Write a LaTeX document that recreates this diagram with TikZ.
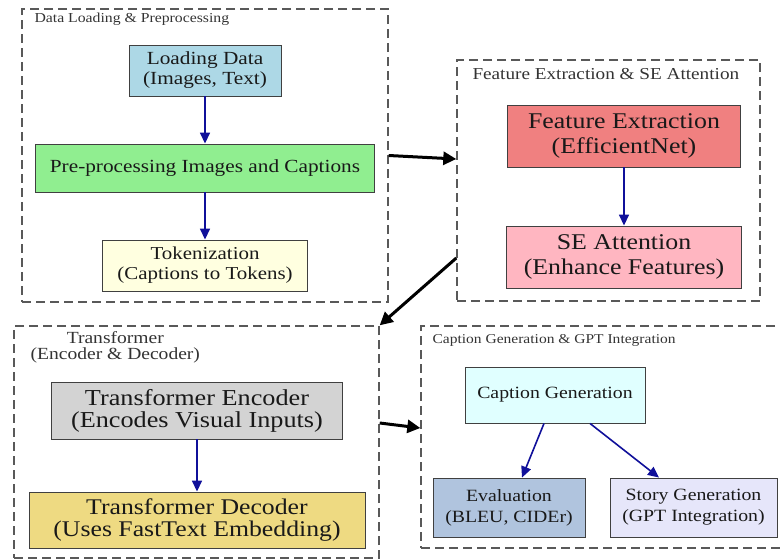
\documentclass[tikz,border=0pt]{standalone}
\usepackage{fontspec}
\setmainfont{Liberation Serif}[FakeStretch=1.15]
\usetikzlibrary{arrows.meta,positioning,calc}
\definecolor{cload}{HTML}{ADD8E6}
\definecolor{cprep}{HTML}{90EE90}
\definecolor{ctoken}{HTML}{FFFFE0}
\definecolor{cfeat}{HTML}{F08080}
\definecolor{cse}{HTML}{FFB6C1}
\definecolor{cenc}{HTML}{D3D3D3}
\definecolor{cdec}{HTML}{EEDA82}
\definecolor{ccap}{HTML}{E0FFFF}
\definecolor{ceval}{HTML}{B0C4DE}
\definecolor{cstory}{HTML}{E6E6FA}
\definecolor{flowblue}{HTML}{10109A}
\newcommand{\fsz}[2]{\fontsize{#1}{#2}\selectfont}
\tikzset{box/.style={draw=black!75, line width=0.9pt, inner sep=0pt, align=center, text=black!90}}
\tikzstyle{cluster}=[draw=black!65, line width=1.4pt, dash pattern=on 9pt off 5pt, inner sep=0pt]
\tikzstyle{clabel}=[inner sep=0pt, text=black!80, align=center]
\tikzset{flow/.style={-{Triangle[length=11pt,width=10pt]}, draw=flowblue, line width=1.6pt},
  jump/.style={-{Triangle[length=13pt,width=13pt]}, line width=3pt}}

\begin{document}
\begin{tikzpicture}[x=1pt, y=-1pt]
\useasboundingbox (0,0) rectangle (780,560);
% clusters
\node[cluster, minimum width=366pt, minimum height=293pt] (C1) at (205,155.5) {};
\node[cluster, minimum width=303pt, minimum height=241pt] (C2) at (608.5,180.5) {};
\node[cluster, minimum width=365pt, minimum height=232pt] (C3) at (196.5,442) {};
\node[cluster, minimum width=360pt, minimum height=222pt] (C4) at (601,437) {};
\node[clabel, font=\fsz{13.7}{15}, anchor=west] (L1) at ([xshift=13pt,yshift=-11pt]C1.north west) {Data Loading \& Preprocessing};
\node[clabel, font=\fsz{16.7}{18}, anchor=west] (L2) at ([xshift=16pt,yshift=-15pt]C2.north west) {Feature Extraction \& SE Attention};
\node[clabel, font=\fsz{17}{16}] (L3) at ([xshift=102pt,yshift=-22pt]C3.north west) {Transformer\\(Encoder \& Decoder)};
\node[clabel, font=\fsz{13.5}{15}, anchor=west] (L4) at ([xshift=12pt,yshift=-15pt]C4.north west) {Caption Generation \& GPT Integration};
% data loading
\node[box, fill=cload, minimum width=152pt, minimum height=51pt, font=\fsz{18.5}{20}] (load) at (205,70.5) {Loading Data\\(Images, Text)};
\node[box, fill=cprep, minimum width=339pt, minimum height=48pt, font=\fsz{18.5}{20}] (prep) at (205,168) {Pre-processing Images and Captions};
\node[box, fill=ctoken, minimum width=205pt, minimum height=51pt, font=\fsz{18.2}{20}] (token) at (205,265.5) {Tokenization\\(Captions to Tokens)};
% feature extraction
\node[box, fill=cfeat, minimum width=233pt, minimum height=62pt, font=\fsz{22.5}{25}] (feat) at (624,136) {Feature Extraction\\(EfficientNet)};
\node[box, fill=cse, minimum width=235pt, minimum height=62pt, font=\fsz{22.5}{25}] (seatt) at (624,257) {SE Attention\\(Enhance Features)};
% transformer
\node[box, fill=cenc, minimum width=291pt, minimum height=57pt, font=\fsz{22.8}{22}] (enc) at (197,410.5) {Transformer Encoder\\(Encodes Visual Inputs)};
\node[box, fill=cdec, minimum width=336pt, minimum height=56pt, font=\fsz{22.4}{22}] (dec) at (197,520) {Transformer Decoder\\(Uses FastText Embedding)};
% caption generation
\node[box, fill=ccap, minimum width=180pt, minimum height=56pt, font=\fsz{17.2}{21}] (capgen) at (555,395) {Caption Generation};
\node[box, fill=ceval, minimum width=152pt, minimum height=59pt, font=\fsz{17.2}{21}] (evalu) at (509,507.5) {Evaluation\\(BLEU, CIDEr)};
\node[box, fill=cstory, minimum width=167pt, minimum height=59pt, font=\fsz{17.2}{21}] (story) at (693.5,507.5) {Story Generation\\(GPT Integration)};
% edges
\draw[flow] (load) -- (prep);
\draw[flow] (prep) -- (token);
\draw[flow] (feat) -- (seatt);
\draw[flow] (enc) -- (dec);
\draw[flow] ([xshift=-11pt]capgen.south) -- ([xshift=13pt]evalu.north);
\draw[flow] ([xshift=35pt]capgen.south) -- ([xshift=-34.5pt]story.north);
\draw[jump] (C1.east) -- ([yshift=21.5pt]C2.west);
\draw[jump] ([yshift=-77.5pt]C2.west) -- (C3.north east);
\draw[jump] ([yshift=19pt]C3.east) -- ([yshift=9pt]C4.west);
\end{tikzpicture}
\end{document}
